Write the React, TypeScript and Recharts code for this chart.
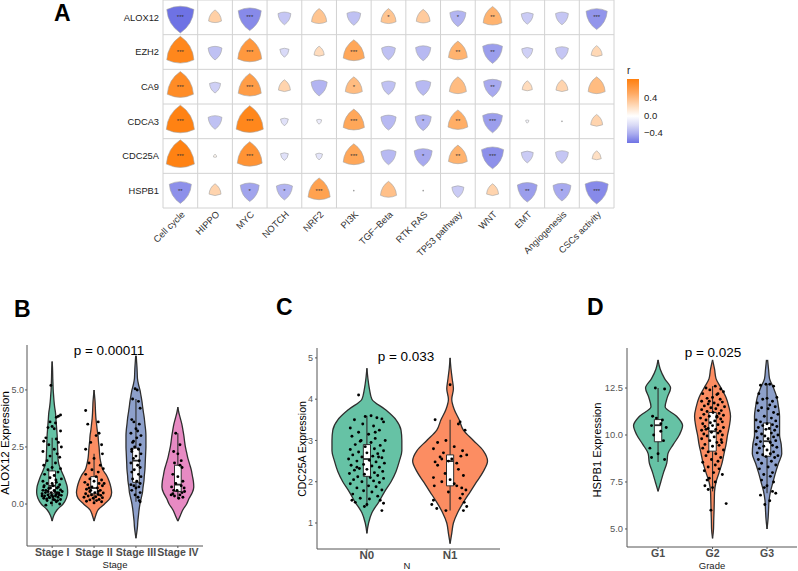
import React from "react";
import {
  Area,
  ComposedChart,
  ReferenceArea,
  ReferenceLine,
  Scatter,
  ScatterChart,
  XAxis,
  YAxis,
} from "recharts";

const FONT = '"Liberation Sans", Arial, Helvetica, sans-serif';

// ---------- Panel A: correlation triangles ----------
const genes = ["ALOX12", "EZH2", "CA9", "CDCA3", "CDC25A", "HSPB1"];
const pathways = [
  "Cell cycle", "HIPPO", "MYC", "NOTCH", "NRF2", "PI3K", "TGF−Beta",
  "RTK RAS", "TP53 pathway", "WNT", "EMT", "Angiogenesis", "CSCs activity",
];

const alox12R = [-0.59, 0.28, -0.5, -0.28, 0.33, -0.3, 0.33, 0.3, -0.35, 0.41, -0.26, -0.28, -0.46];
const ezh2R = [0.59, -0.3, 0.52, -0.2, 0.22, 0.46, -0.3, -0.33, 0.41, -0.43, -0.24, -0.28, 0.24];
const ca9R = [0.57, -0.24, 0.5, 0.26, -0.35, 0.37, -0.3, -0.33, 0.37, -0.39, 0.22, 0.26, 0.37];
const cdca3R = [0.61, -0.3, 0.59, -0.17, -0.11, 0.46, -0.33, -0.35, 0.43, -0.43, -0.07, -0.02, 0.26];
const cdc25aR = [0.61, 0.07, 0.54, -0.17, -0.15, 0.46, -0.33, -0.39, 0.41, -0.48, -0.26, -0.28, 0.2];
const hspb1R = [-0.48, 0.26, -0.41, -0.35, 0.48, -0.02, 0.35, 0.02, -0.26, 0.26, -0.43, -0.39, -0.5];

const alox12Sig = ["***", "", "***", "", "", "", "*", "", "*", "**", "", "", "***"];
const ezh2Sig = ["***", "", "***", "", "", "***", "", "", "**", "**", "", "", ""];
const ca9Sig = ["***", "", "***", "", "", "*", "", "", "", "**", "", "", ""];
const cdca3Sig = ["***", "", "***", "", "", "***", "", "*", "**", "***", "", "", ""];
const cdc25aSig = ["***", "", "***", "", "", "***", "", "*", "**", "***", "", "", ""];
const hspb1Sig = ["**", "", "*", "*", "***", "", "", "", "", "", "**", "*", "***"];

const corR = [alox12R, ezh2R, ca9R, cdca3R, cdc25aR, hspb1R];
const corSig = [alox12Sig, ezh2Sig, ca9Sig, cdca3Sig, cdc25aSig, hspb1Sig];

const ORANGE = [255, 127, 14];
const BLUE = [110, 114, 228];

function corColor(r: number) {
  const base = r >= 0 ? ORANGE : BLUE;
  const t = Math.pow(Math.min(1, Math.abs(r) / (r >= 0 ? 0.62 : 0.58)), 1.25);
  const c = base.map((v) => Math.round(255 + (v - 255) * t));
  return `rgb(${c.join(",")})`;
}

function TriangleShape(props: any) {
  const { cx, cy, payload } = props;
  const s = Math.abs(payload.r) * 46;
  if (s < 2) {
    return <circle cx={cx} cy={cy} r={0.8} fill="#999" />;
  }
  const h1 = s / Math.sqrt(3);
  const h2 = s / (2 * Math.sqrt(3));
  const R = s * 1.15;
  const arc = (x: number, y: number) => `A${R},${R} 0 0 1 ${x},${y}`;
  let d: string;
  if (payload.r > 0) {
    d = `M${cx},${cy - h1} ${arc(cx + s / 2, cy + h2)} ${arc(cx - s / 2, cy + h2)} ${arc(cx, cy - h1)}Z`;
  } else {
    d = `M${cx - s / 2},${cy - h2} ${arc(cx + s / 2, cy - h2)} ${arc(cx, cy + h1)} ${arc(cx - s / 2, cy - h2)}Z`;
  }
  return (
    <g>
      <path d={d} fill={corColor(payload.r)} stroke="#a3a3a3" strokeWidth={0.6} />
      {payload.sig ? (
        <text x={cx} y={cy + 2} textAnchor="middle" fontSize={6} fill="#333" fontFamily={FONT}>
          {payload.sig}
        </text>
      ) : null}
    </g>
  );
}

function PathwayTick({ x, y, payload }: any) {
  const ax = x + 5;
  const ay = y + 7;
  return (
    <text
      x={ax}
      y={ay}
      transform={`rotate(-45 ${ax} ${ay})`}
      textAnchor="end"
      fontSize={9.3}
      fill="#333"
      fontFamily={FONT}
    >
      {pathways[payload.value]}
    </text>
  );
}

function CorrelationPanel() {
  const cells = genes.flatMap((g, i) =>
    pathways.map((p, j) => ({ row: i, col: j, r: corR[i][j], sig: corSig[i][j] }))
  );
  const colEdges = [...pathways.map((_, j) => j - 0.5), pathways.length - 0.5];
  const rowEdges = [...genes.map((_, i) => i - 0.5), genes.length - 0.5];
  return (
    <ScatterChart width={640} height={290} margin={{ top: 0, right: 26, bottom: 0, left: 0 }}>
      {colEdges.map((e) => (
        <ReferenceLine key={"c" + e} x={e} stroke="#d2d2d2" strokeWidth={1} />
      ))}
      {rowEdges.map((e) => (
        <ReferenceLine key={"r" + e} y={e} stroke="#d2d2d2" strokeWidth={1} />
      ))}
      <XAxis
        type="number"
        dataKey="col"
        domain={[-0.5, pathways.length - 0.5]}
        ticks={pathways.map((_, j) => j)}
        interval={0}
        axisLine={false}
        tickLine={false}
        tickSize={0}
        tickMargin={0}
        height={82}
        tick={<PathwayTick />}
      />
      <YAxis
        type="number"
        dataKey="row"
        domain={[-0.5, genes.length - 0.5]}
        reversed
        ticks={genes.map((_, i) => i)}
        interval={0}
        tickFormatter={(v: number) => genes[v]}
        axisLine={false}
        tickLine={false}
        tickSize={0}
        tickMargin={4}
        width={163}
        tick={{ fontSize: 9.3, fill: "#222", fontFamily: FONT }}
      />
      <Scatter data={cells} shape={TriangleShape} isAnimationActive={false} />
    </ScatterChart>
  );
}

// ---------- Panel B: ALOX12 by stage ----------
const bGroups = ["Stage I", "Stage II", "Stage III", "Stage IV"];
const bColors = ["#66C2A5", "#FC8D62", "#8DA0CB", "#E78AC3"];
const bLevels = [-1.5, -1.25, -1, -0.75, -0.5, -0.25, 0, 0.25, 0.5, 0.75, 1, 1.25, 1.5, 1.75, 2, 2.25, 2.5, 2.75, 3, 3.25, 3.5, 3.75, 4, 4.25, 4.5, 4.75, 5, 5.25, 5.5, 5.75, 6, 6.25, 6.5];
const stageIWidth = [null, null, null, 0, 0.04, 0.12, 0.26, 0.34, 0.37, 0.36, 0.32, 0.27, 0.21, 0.16, 0.14, 0.135, 0.13, 0.125, 0.12, 0.11, 0.1, 0.09, 0.08, 0.06, 0.045, 0.035, 0.025, 0.02, 0.015, 0.012, 0.008, 0, null];
const stageIIWidth = [null, null, null, 0, 0.04, 0.1, 0.25, 0.38, 0.42, 0.4, 0.36, 0.3, 0.21, 0.17, 0.143, 0.13, 0.12, 0.105, 0.095, 0.075, 0.06, 0.045, 0.036, 0.03, 0.024, 0.012, 0, null, null, null, null, null, null];
const stageIIIWidth = [0, 0.02, 0.036, 0.045, 0.06, 0.075, 0.095, 0.125, 0.155, 0.17, 0.19, 0.2, 0.214, 0.22, 0.226, 0.232, 0.238, 0.238, 0.238, 0.23, 0.214, 0.2, 0.18, 0.16, 0.143, 0.12, 0.095, 0.06, 0.036, 0.03, 0.024, 0.015, 0.006];
const stageIVWidth = [null, null, null, 0, 0.06, 0.12, 0.21, 0.27, 0.345, 0.38, 0.37, 0.345, 0.32, 0.28, 0.24, 0.21, 0.18, 0.16, 0.143, 0.12, 0.095, 0.06, 0.024, 0, null, null, null, null, null, null, null, null, null];
const bBoxes = [
  { lo: -0.1, q1: 0.45, med: 0.8, q3: 1.45, hi: 2.9 },
  { lo: 0.0, q1: 0.45, med: 0.7, q3: 1.2, hi: 2.2 },
  { lo: 0.1, q1: 0.95, med: 1.9, q3: 2.45, hi: 4.6 },
  { lo: 0.25, q1: 0.55, med: 0.85, q3: 1.7, hi: 3.1 },
];
const stageIPts = [[-0.03, 5.2], [0.2, 3.9], [0.15, 3.85], [0.1, 3.8], [-0.05, 3.6], [0.08, 3.55], [0.0, 3.4], [-0.1, 3.35], [0.05, 3.3], [0.2, 3.2], [-0.15, 2.9], [0.1, 2.85], [-0.2, 2.75], [0.15, 2.7], [-0.08, 2.6], [0.22, 2.5], [0.05, 2.4], [-0.22, 2.3], [0.12, 2.2], [-0.05, 2.1], [0.18, 2.05], [-0.12, 1.9], [0.08, 1.8], [-0.2, 1.7], [0.0, 1.6], [0.2, 1.55], [-0.1, 1.5], [0.14, 1.4], [-0.18, 1.3], [0.05, 1.25], [-0.05, 1.15], [0.22, 1.1], [-0.22, 1.0], [0.1, 0.95], [-0.12, 0.9], [0.18, 0.85], [0.02, 0.8], [-0.2, 0.75], [0.12, 0.7], [-0.08, 0.68], [0.2, 0.62], [-0.15, 0.6], [0.06, 0.55], [-0.02, 0.5], [0.16, 0.48], [-0.24, 0.45], [0.1, 0.42], [-0.1, 0.4], [0.22, 0.38], [-0.18, 0.35], [0.02, 0.32], [0.14, 0.3], [-0.06, 0.28], [-0.2, 0.25], [0.2, 0.2], [0.06, 0.18], [-0.12, 0.15], [0.1, 0.1], [-0.02, 0.05], [0.18, 0.0], [-0.15, -0.05], [0.05, 0.6], [-0.1, 0.55], [0.12, 0.5], [-0.04, 0.7], [0.08, 0.35], [-0.16, 0.5], [0.0, 0.9], [0.15, 0.75], [-0.22, 0.6], [0.24, 0.55], [-0.07, 0.3], [0.17, 0.4], [-0.13, 0.22], [0.03, 0.2], [-0.19, 0.8], [0.09, 1.05], [-0.24, 0.35], [0.13, 0.15], [-0.01, 0.38]];
const stageIIPts = [[-0.2, 4.1], [0.1, 3.6], [-0.15, 3.5], [0.12, 3.1], [0.05, 3.0], [-0.08, 2.7], [0.18, 2.6], [-0.2, 2.4], [0.2, 2.2], [0.0, 2.0], [-0.12, 1.8], [0.15, 1.7], [0.22, 1.55], [-0.05, 1.5], [0.1, 1.4], [-0.2, 1.3], [0.05, 1.2], [-0.1, 1.1], [0.18, 1.05], [0.0, 1.0], [-0.22, 0.95], [0.12, 0.9], [-0.15, 0.85], [0.2, 0.8], [-0.05, 0.75], [0.08, 0.7], [-0.18, 0.65], [0.15, 0.6], [-0.1, 0.55], [0.02, 0.5], [0.22, 0.48], [-0.2, 0.45], [0.1, 0.42], [-0.06, 0.4], [0.16, 0.38], [-0.14, 0.35], [0.04, 0.32], [-0.24, 0.3], [0.2, 0.28], [-0.02, 0.25], [0.12, 0.2], [-0.1, 0.18], [0.06, 0.15], [-0.18, 0.12], [0.18, 0.1], [0.0, 0.05], [-0.08, 0.6], [0.1, 0.55], [-0.12, 0.7], [0.24, 0.9]];
const stageIIIPts = [[-0.02, 5.05], [0.03, 5.0], [-0.08, 4.6], [0.06, 4.5], [0.1, 4.2], [-0.1, 3.7], [-0.05, 3.6], [0.08, 3.5], [0.0, 3.3], [-0.12, 3.1], [0.12, 3.0], [0.02, 2.9], [-0.08, 2.7], [0.1, 2.6], [-0.03, 2.5], [0.06, 2.4], [-0.1, 2.3], [0.12, 2.2], [0.0, 2.1], [-0.06, 2.0], [0.08, 1.9], [-0.12, 1.8], [0.04, 1.7], [0.1, 1.6], [-0.04, 1.5], [-0.1, 1.4], [0.06, 1.3], [0.12, 1.2], [-0.08, 1.1], [0.02, 1.0], [0.1, 0.9], [-0.12, 0.85], [-0.05, 0.8], [0.07, 0.75], [0.0, 0.7], [-0.1, 0.6], [0.1, 0.5], [-0.02, 0.4], [0.05, 0.3], [0.08, 0.15], [0.1, 0.1], [-0.06, 2.75], [0.04, 3.2], [-0.1, 2.4]];
const stageIVPts = [[-0.05, 3.1], [0.05, 2.6], [-0.1, 2.3], [0.0, 2.2], [0.08, 1.9], [-0.08, 1.8], [0.05, 1.7], [0.1, 1.6], [-0.12, 1.3], [0.0, 1.2], [0.12, 1.0], [-0.05, 0.9], [0.08, 0.8], [-0.15, 0.75], [0.15, 0.7], [-0.02, 0.6], [0.1, 0.5], [-0.12, 0.45], [0.05, 0.4], [-0.08, 0.35], [0.12, 0.3], [0.02, 0.25], [-0.1, 0.6], [0.16, 0.55], [-0.16, 0.4]];

// ---------- Panel C: CDC25A by N ----------
const cGroups = ["N0", "N1"];
const cColors = ["#66C2A5", "#FC8D62"];
const cLevels = [0.5, 0.75, 1, 1.25, 1.5, 1.75, 2, 2.25, 2.5, 2.75, 3, 3.25, 3.5, 3.75, 4, 4.25, 4.5, 4.75, 5];
const n0Width = [null, 0, 0.02, 0.06, 0.14, 0.21, 0.29, 0.35, 0.39, 0.42, 0.42, 0.41, 0.35, 0.22, 0.06, 0.03, 0.012, 0, null];
const n1Width = [0, 0.02, 0.04, 0.09, 0.16, 0.24, 0.32, 0.4, 0.45, 0.4, 0.28, 0.16, 0.11, 0.05, 0.02, 0.04, 0.025, 0.01, 0];
const cBoxes = [
  { lo: 1.4, q1: 2.13, med: 2.55, q3: 2.9, hi: 3.6 },
  { lo: 1.3, q1: 1.9, med: 2.5, q3: 2.65, hi: 3.5 },
];
const n0Pts = [[-0.1, 4.1], [0.05, 3.6], [-0.02, 3.58], [0.12, 3.55], [0.18, 3.52], [-0.15, 3.5], [0.2, 3.45], [-0.05, 3.4], [0.08, 3.35], [-0.2, 3.3], [0.15, 3.25], [-0.1, 3.2], [0.02, 3.15], [-0.18, 3.1], [0.1, 3.05], [0.22, 3.0], [-0.08, 2.98], [0.05, 2.95], [-0.14, 2.9], [0.16, 2.88], [-0.02, 2.85], [0.09, 2.8], [-0.2, 2.78], [0.2, 2.75], [-0.1, 2.72], [0.0, 2.7], [0.13, 2.68], [-0.17, 2.65], [0.07, 2.62], [-0.06, 2.6], [0.18, 2.58], [-0.22, 2.55], [0.03, 2.52], [-0.12, 2.5], [0.11, 2.48], [0.21, 2.45], [-0.04, 2.42], [-0.19, 2.4], [0.06, 2.38], [0.15, 2.35], [-0.09, 2.32], [0.0, 2.3], [-0.15, 2.28], [0.19, 2.25], [0.09, 2.22], [-0.21, 2.2], [-0.03, 2.18], [0.13, 2.15], [-0.11, 2.12], [0.04, 2.1], [0.2, 2.08], [-0.16, 2.05], [0.08, 2.02], [-0.06, 2.0], [0.15, 1.98], [-0.2, 1.95], [0.02, 1.9], [0.11, 1.88], [-0.12, 1.85], [0.18, 1.8], [-0.04, 1.78], [0.06, 1.75], [-0.17, 1.7], [0.13, 1.65], [-0.08, 1.6], [0.03, 1.58], [0.16, 1.55], [-0.14, 1.5], [0.0, 1.45], [-0.03, 1.4], [0.2, 1.48], [0.18, 1.3], [-0.18, 1.55], [0.1, 3.2], [-0.07, 3.0], [0.14, 2.6], [-0.12, 2.35]];
const n1Pts = [[0.0, 4.35], [-0.18, 3.5], [0.12, 3.45], [0.1, 3.4], [0.18, 3.25], [-0.05, 3.0], [-0.15, 2.95], [0.05, 2.85], [-0.2, 2.8], [0.15, 2.75], [-0.08, 2.7], [0.2, 2.65], [0.13, 2.62], [-0.12, 2.6], [0.02, 2.55], [-0.02, 2.5], [-0.18, 2.48], [0.08, 2.45], [-0.15, 2.4], [0.1, 2.3], [-0.06, 2.2], [0.16, 2.15], [-0.2, 2.1], [0.0, 2.05], [-0.1, 2.0], [0.05, 1.95], [-0.19, 1.9], [0.14, 1.85], [0.19, 1.8], [-0.02, 1.75], [0.15, 1.7], [0.12, 1.6], [-0.2, 1.55], [0.17, 1.5], [-0.22, 1.45], [0.2, 1.4], [-0.16, 1.35], [0.16, 1.3], [-0.05, 1.3], [0.08, 1.9], [-0.1, 2.55]];

// ---------- Panel D: HSPB1 by grade ----------
const dGroups = ["G1", "G2", "G3"];
const dColors = ["#66C2A5", "#FC8D62", "#8DA0CB"];
const dLevels = [4.5, 5, 5.5, 6, 6.5, 7, 7.5, 8, 8.5, 9, 9.5, 10, 10.5, 11, 11.5, 12, 12.5, 13, 13.5, 14];
const g1Width = [null, null, null, null, null, 0, 0.05, 0.1, 0.16, 0.18, 0.28, 0.39, 0.45, 0.34, 0.13, 0.17, 0.23, 0.12, 0.04, 0];
const g2Width = [0, 0.018, 0.022, 0.028, 0.032, 0.037, 0.064, 0.12, 0.174, 0.21, 0.248, 0.275, 0.31, 0.33, 0.3, 0.248, 0.156, 0.064, 0.037, 0];
const g3Width = [null, 0, 0.018, 0.028, 0.037, 0.064, 0.11, 0.156, 0.21, 0.27, 0.26, 0.23, 0.23, 0.23, 0.21, 0.18, 0.12, 0.046, 0.028, 0.01];
const dBoxes = [
  { lo: 8.56, q1: 9.64, med: 10.52, q3: 10.82, hi: 12.5 },
  { lo: 7.0, q1: 9.14, med: 10.2, q3: 11.2, hi: 12.6 },
  { lo: 6.9, q1: 8.87, med: 9.67, q3: 10.64, hi: 12.7 },
];
const g1Pts = [[-0.05, 12.5], [0.12, 12.45], [-0.1, 11.0], [0.08, 10.8], [-0.12, 10.5], [0.15, 10.4], [0.05, 10.2], [-0.08, 10.0], [0.1, 9.7], [-0.15, 9.3], [0.0, 9.0], [-0.12, 8.8], [0.12, 8.7], [0.05, 10.6], [-0.03, 10.9]];
const g2Pts = [[0.05, 12.6], [-0.12, 12.5], [0.15, 12.45], [-0.05, 12.4], [0.2, 12.3], [-0.18, 12.2], [0.08, 12.15], [0.0, 12.0], [-0.1, 11.95], [0.14, 11.9], [-0.2, 11.8], [0.18, 11.75], [0.03, 11.7], [-0.08, 11.65], [0.1, 11.6], [-0.15, 11.55], [0.22, 11.5], [-0.03, 11.45], [0.06, 11.4], [-0.2, 11.35], [0.16, 11.3], [-0.1, 11.25], [0.01, 11.2], [0.12, 11.15], [-0.16, 11.1], [0.2, 11.05], [-0.06, 11.0], [0.08, 10.95], [-0.22, 10.9], [0.15, 10.85], [-0.12, 10.8], [0.04, 10.75], [0.18, 10.7], [-0.04, 10.65], [-0.18, 10.6], [0.1, 10.55], [0.0, 10.5], [-0.14, 10.45], [0.2, 10.4], [-0.08, 10.35], [0.06, 10.3], [-0.2, 10.25], [0.14, 10.2], [-0.02, 10.15], [0.1, 10.1], [-0.16, 10.05], [0.18, 10.0], [-0.1, 9.95], [0.03, 9.9], [-0.2, 9.8], [0.16, 9.75], [-0.05, 9.7], [0.08, 9.6], [-0.14, 9.5], [0.12, 9.45], [0.0, 9.4], [-0.18, 9.3], [0.2, 9.2], [-0.08, 9.1], [0.06, 9.0], [-0.12, 8.9], [0.15, 8.8], [-0.02, 8.7], [0.1, 8.6], [-0.18, 8.55], [0.05, 8.4], [-0.08, 8.3], [0.12, 8.2], [-0.15, 8.1], [0.02, 8.0], [0.18, 7.9], [-0.06, 7.7], [-0.1, 7.6], [0.05, 7.5], [-0.14, 7.3], [0.0, 7.2], [-0.08, 7.1], [0.25, 6.35], [-0.03, 6.0], [0.08, 11.0], [-0.12, 10.3], [0.17, 9.6], [-0.06, 11.8], [0.1, 12.2]];
const g3Pts = [[-0.02, 12.7], [0.05, 12.7], [-0.12, 12.65], [0.12, 12.6], [-0.15, 12.2], [0.18, 12.0], [0.0, 11.95], [-0.08, 11.9], [0.1, 11.8], [-0.18, 11.7], [0.05, 11.6], [0.15, 11.5], [-0.1, 11.45], [0.02, 11.4], [-0.16, 11.3], [0.12, 11.2], [0.2, 11.1], [-0.05, 11.0], [0.08, 10.9], [-0.2, 10.8], [0.16, 10.75], [-0.12, 10.7], [0.0, 10.6], [0.1, 10.55], [-0.08, 10.5], [0.18, 10.45], [-0.16, 10.4], [0.04, 10.35], [-0.02, 10.3], [0.14, 10.25], [-0.2, 10.2], [0.08, 10.1], [-0.1, 10.05], [0.2, 10.0], [-0.04, 9.95], [0.12, 9.9], [-0.18, 9.85], [0.02, 9.8], [0.16, 9.7], [-0.12, 9.65], [0.06, 9.6], [-0.2, 9.5], [0.1, 9.45], [-0.06, 9.4], [0.18, 9.35], [-0.14, 9.3], [0.0, 9.2], [0.12, 9.1], [-0.18, 9.05], [0.06, 9.0], [-0.08, 8.95], [0.2, 8.9], [-0.02, 8.85], [0.14, 8.8], [-0.16, 8.7], [0.08, 8.6], [-0.1, 8.5], [0.16, 8.4], [0.02, 8.3], [-0.14, 8.2], [0.1, 8.0], [-0.06, 7.9], [0.06, 7.8], [-0.1, 7.6], [0.12, 7.5], [0.0, 7.3], [-0.05, 7.2], [0.1, 7.0], [-0.12, 6.8], [0.05, 6.5], [-0.04, 6.3], [0.16, 6.9]];

type Box = { lo: number; q1: number; med: number; q3: number; hi: number };

type ViolinProps = {
  left: number;
  top: number;
  width: number;
  height: number;
  marginTop: number;
  marginRight: number;
  yAxisWidth: number;
  yTickMargin: number;
  xAxisHeight: number;
  xTickMargin: number;
  xDomain: [number, number];
  yDomain: [number, number];
  yTicks: number[];
  yFmt: (v: number) => string;
  yTickSize: number;
  xTickSize: number;
  groups: string[];
  colors: string[];
  levels: number[];
  widths: (number | null)[][];
  boxes: Box[];
  boxHalf: number;
  points: number[][][];
};

const dotShape = (p: any) => <circle cx={p.cx} cy={p.cy} r={1.45} fill="#000" />;

function ViolinPanel(props: ViolinProps) {
  const { groups, colors, levels, widths, boxes, boxHalf, points } = props;
  const rows = levels.map((y, k) => {
    const row: any = { y };
    widths.forEach((w, g) => {
      row["w" + g] = w[k];
    });
    return row;
  });
  const dots = points.flatMap((pts, g) => pts.map(([dx, y]) => ({ x: g + 1 + dx, y })));
  const axisColor = "#555";
  const lineColor = "#2e2e2e";
  return (
    <div style={{ position: "absolute", left: props.left, top: props.top }}>
      <ComposedChart
        layout="vertical"
        width={props.width}
        height={props.height}
        data={rows}
        margin={{ top: props.marginTop, right: props.marginRight, bottom: 0, left: 0 }}
      >
        <XAxis
          type="number"
          dataKey="x"
          domain={props.xDomain}
          allowDataOverflow
          ticks={groups.map((_, g) => g + 1)}
          interval={0}
          tickFormatter={(v: number) => groups[v - 1]}
          height={props.xAxisHeight}
          stroke={axisColor}
          tickSize={2}
          tickMargin={props.xTickMargin}
          tick={{ fontSize: props.xTickSize, fontWeight: "bold", fill: "#4d4d4d", fontFamily: FONT }}
        />
        <YAxis
          type="number"
          dataKey="y"
          domain={props.yDomain}
          reversed
          allowDataOverflow
          ticks={props.yTicks}
          interval={0}
          tickFormatter={props.yFmt}
          width={props.yAxisWidth}
          stroke={axisColor}
          tickSize={2}
          tickMargin={props.yTickMargin}
          tick={{ fontSize: props.yTickSize, fill: "#555", fontFamily: FONT }}
        />
        {groups.map((_, g) => (
          <Area
            key={"v" + g}
            dataKey={(row: any) =>
              row["w" + g] == null ? [null, null] : [g + 1 - row["w" + g], g + 1 + row["w" + g]]
            }
            type="monotone"
            fill={colors[g]}
            fillOpacity={1}
            stroke={lineColor}
            strokeWidth={1.3}
            dot={false}
            activeDot={false}
            isAnimationActive={false}
          />
        ))}
        {boxes.map((b, g) => (
          <ReferenceLine
            key={"wl" + g}
            segment={[{ x: g + 1, y: b.lo }, { x: g + 1, y: b.q1 }]}
            stroke={lineColor}
            strokeWidth={1.1}
          />
        ))}
        {boxes.map((b, g) => (
          <ReferenceLine
            key={"wh" + g}
            segment={[{ x: g + 1, y: b.q3 }, { x: g + 1, y: b.hi }]}
            stroke={lineColor}
            strokeWidth={1.1}
          />
        ))}
        {boxes.map((b, g) => (
          <ReferenceArea
            key={"bx" + g}
            x1={g + 1 - boxHalf}
            x2={g + 1 + boxHalf}
            y1={b.q1}
            y2={b.q3}
            fill="#fff"
            fillOpacity={1}
            stroke={lineColor}
            strokeWidth={1}
          />
        ))}
        {boxes.map((b, g) => (
          <ReferenceLine
            key={"md" + g}
            segment={[{ x: g + 1 - boxHalf, y: b.med }, { x: g + 1 + boxHalf, y: b.med }]}
            stroke={lineColor}
            strokeWidth={1.8}
          />
        ))}
        <Scatter data={dots} shape={dotShape} isAnimationActive={false} />
      </ComposedChart>
    </div>
  );
}

const txt = (extra: React.CSSProperties): React.CSSProperties => ({
  position: "absolute",
  fontFamily: FONT,
  lineHeight: 1,
  whiteSpace: "nowrap",
  ...extra,
});

function CenterText({ x, y, size, children, bold, color, rotate }: any) {
  return (
    <div
      style={txt({
        left: x,
        top: y,
        fontSize: size,
        fontWeight: bold ? "bold" : "normal",
        color: color || "#000",
        transform: `translate(-50%, -50%)${rotate ? " rotate(-90deg)" : ""}`,
      })}
    >
      {children}
    </div>
  );
}

export default function App() {
  return (
    <div
      style={{
        position: "absolute",
        left: 0,
        top: 0,
        width: 798,
        height: 571,
        overflow: "hidden",
        background: "#fff",
        fontFamily: FONT,
      }}
    >
      <div style={{ position: "absolute", left: 0, top: 0 }}>
        <CorrelationPanel />
      </div>

      {/* colour legend */}
      <div style={txt({ left: 627, top: 66, fontSize: 10, color: "#222" })}>r</div>
      <div
        style={{
          position: "absolute",
          left: 627,
          top: 79,
          width: 12,
          height: 64,
          background:
            "linear-gradient(to bottom, #FF7F0E 0%, #FFA860 22%, #FFE2C8 45%, #FFFFFF 58%, #D9DAF6 72%, #A9ABEF 86%, #6E72E4 100%)",
        }}
      />
      <div style={txt({ left: 644, top: 93, fontSize: 9.5, color: "#222" })}>0.4</div>
      <div style={txt({ left: 644, top: 111, fontSize: 9.5, color: "#222" })}>0.0</div>
      <div style={txt({ left: 644, top: 128, fontSize: 9.5, color: "#222" })}>−0.4</div>

      {/* panel letters */}
      <div style={txt({ left: 54, top: 2, fontSize: 23, fontWeight: "bold" })}>A</div>
      <div style={txt({ left: 14, top: 298, fontSize: 23, fontWeight: "bold" })}>B</div>
      <div style={txt({ left: 276, top: 296, fontSize: 23, fontWeight: "bold" })}>C</div>
      <div style={txt({ left: 587, top: 296, fontSize: 23, fontWeight: "bold" })}>D</div>

      <ViolinPanel
        left={0}
        top={290}
        width={215}
        height={281}
        marginTop={55}
        marginRight={12}
        yAxisWidth={27}
        yTickMargin={1}
        xAxisHeight={25}
        xTickMargin={1}
        xDomain={[0.4, 4.6]}
        yDomain={[-1.84, 6.97]}
        yTicks={[0, 2.5, 5]}
        yFmt={(v) => v.toFixed(1)}
        yTickSize={9}
        xTickSize={10.5}
        groups={bGroups}
        colors={bColors}
        levels={bLevels}
        widths={[stageIWidth, stageIIWidth, stageIIIWidth, stageIVWidth]}
        boxes={bBoxes}
        boxHalf={0.08}
        points={[stageIPts, stageIIPts, stageIIIPts, stageIVPts]}
      />
      <ViolinPanel
        left={280}
        top={290}
        width={230}
        height={281}
        marginTop={58}
        marginRight={10}
        yAxisWidth={37}
        yTickMargin={2}
        xAxisHeight={22}
        xTickMargin={0}
        xDomain={[0.4, 2.6]}
        yDomain={[0.37, 5.24]}
        yTicks={[1, 2, 3, 4, 5]}
        yFmt={(v) => String(v)}
        yTickSize={9}
        xTickSize={11.5}
        groups={cGroups}
        colors={cColors}
        levels={cLevels}
        widths={[n0Width, n1Width]}
        boxes={cBoxes}
        boxHalf={0.043}
        points={[n0Pts, n1Pts]}
      />
      <ViolinPanel
        left={590}
        top={290}
        width={208}
        height={281}
        marginTop={58}
        marginRight={1}
        yAxisWidth={37}
        yTickMargin={2}
        xAxisHeight={24}
        xTickMargin={1}
        xDomain={[0.43, 3.55]}
        yDomain={[4.04, 14.63]}
        yTicks={[5, 7.5, 10, 12.5]}
        yFmt={(v) => v.toFixed(1)}
        yTickSize={9.4}
        xTickSize={10.5}
        groups={dGroups}
        colors={dColors}
        levels={dLevels}
        widths={[g1Width, g2Width, g3Width]}
        boxes={dBoxes}
        boxHalf={0.068}
        points={[g1Pts, g2Pts, g3Pts]}
      />

      {/* annotations and axis titles */}
      <CenterText x={109} y={351} size={13.5}>p = 0.00011</CenterText>
      <CenterText x={406} y={357} size={13.5}>p = 0.033</CenterText>
      <CenterText x={713} y={353} size={13.5}>p = 0.025</CenterText>

      <CenterText x={6} y={443} size={11.5} rotate>ALOX12 Expression</CenterText>
      <CenterText x={302} y={449} size={10.5} rotate>CDC25A Expression</CenterText>
      <CenterText x={598} y={450} size={11.2} rotate>HSPB1 Expression</CenterText>

      <CenterText x={115} y={565} size={9.5} color="#222">Stage</CenterText>
      <CenterText x={407} y={566} size={9.5} color="#222">N</CenterText>
      <CenterText x={712} y={566} size={9.5} color="#222">Grade</CenterText>
    </div>
  );
}
